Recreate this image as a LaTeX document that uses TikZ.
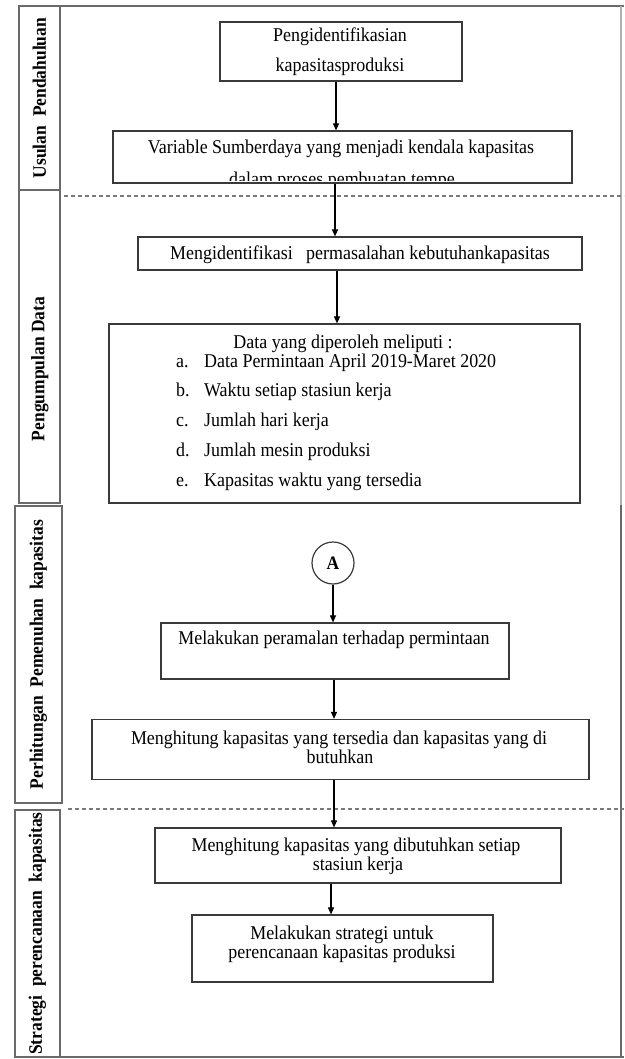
\documentclass[tikz,border=0pt]{standalone}
\usepackage{fontspec}
\setmainfont{Liberation Serif}[FakeStretch=0.92]
\usetikzlibrary{arrows.meta}
\definecolor{boxc}{HTML}{3A3A3A}
\definecolor{framec}{HTML}{6A6A6A}
\definecolor{framel}{HTML}{B0B0B0}
\definecolor{dashc}{HTML}{7A7A7A}
\tikzset{
  box/.style={draw=boxc, line width=1.2pt, inner sep=0pt, fill=white},
  col/.style={draw=framec, line width=1.1pt, inner sep=0pt},
  txt/.style={anchor=base, inner sep=0pt, font=\fontsize{19.5}{21}\selectfont},
  ltxt/.style={anchor=base west, inner sep=0pt, font=\fontsize{19.5}{21}\selectfont},
  lab/.style={rotate=90, inner sep=0pt, font=\fontsize{19}{21}\selectfont\bfseries},
  arr/.style={draw=black, line width=1.1pt, -{Triangle[length=7pt,width=6pt]}},
  frame/.style={draw=framec, line width=1.1pt},
  sep/.style={draw=dashc, line width=1.3pt, dash pattern=on 4pt off 3pt},
}
\begin{document}
\begin{tikzpicture}[x=1pt,y=-1pt]
\useasboundingbox (0,0) rectangle (624,1059);
\fill[white] (0,0) rectangle (624,1059);

% outer frame
\draw[frame] (20,6) -- (624,6);
\draw[draw=framel, line width=1.1pt] (621,6) -- (621,505);
\draw[frame] (621,505) -- (621,1057);
\draw[frame] (15,1057) -- (624,1057);

% left column
\node[col, minimum width=41pt, minimum height=184pt] (s1) at (39.5,98) {};
\node[col, minimum width=41pt, minimum height=313pt] (s2) at (39.5,346.5) {};
\node[col, minimum width=47pt, minimum height=297pt] (s3) at (38.5,654.5) {};
\node[col, minimum width=45pt, minimum height=247pt] (s4) at (37.5,933.5) {};
\node[lab] (l1) at (s1.center) {Usulan\ \ Pendahuluan};
\node[lab] (l2) at (40,369) {Pengumpulan Data};
\node[lab] (l3) at (s3.center) {Perhitungan\ \ Pemenuhan\ \ kapasitas};
\node[lab] (l4) at (s4.center) {Strategi\ \ perencanaan\ \ kapasitas};

% dashed separators
\coordinate (d1a) at (64,196);
\coordinate (d1b) at (624,196);
\coordinate (d2a) at (68,809);
\coordinate (d2b) at (624,809);
\draw[sep] (d1a) -- (d1b);
\draw[sep] (d2a) -- (d2b);

% boxes
\node[box, minimum width=242pt, minimum height=59pt] (b1) at (341,51.5) {};
\node[box, minimum width=459pt, minimum height=52pt] (b2) at (342.5,157) {};
\node[box, minimum width=444pt, minimum height=33pt] (b3) at (360,253.5) {};
\node[box, minimum width=471pt, minimum height=179pt] (b4) at (344.5,413.5) {};
\node[draw=boxc, line width=1.2pt, circle, minimum size=42pt, inner sep=0pt,
      font=\fontsize{19}{21}\selectfont\bfseries] (ca) at (333,563) {A};
\node[box, minimum width=348pt, minimum height=56pt] (b5) at (335,651) {};
\node[box, minimum width=497pt, minimum height=60pt] (b6) at (340.5,749.5) {};
\node[box, minimum width=406pt, minimum height=55pt] (b7) at (358,855.5) {};
\node[box, minimum width=301pt, minimum height=67pt] (b8) at (342.5,948.5) {};

% texts
\node[txt] (t1a) at (340,42) {Pengidentifikasian};
\node[txt] (t1b) at (340,72) {kapasitasproduksi};
\node[txt] (t2a) at (341,154) {Variable\ Sumberdaya yang menjadi kendala kapasitas};
\begin{scope}
  \clip (114,132) rectangle (571,180.5);
  \node[txt] (t2b) at (342,185.5) {dalam proses pembuatan tempe};
\end{scope}
\node[txt] (t3) at (360,259) {Mengidentifikasi\ \ \ permasalahan\ kebutuhankapasitas};
\node[txt] (t4h) at (343,348) {Data yang diperoleh meliputi :};
\node[ltxt] (i1) at (176,367) {a.};
\node[ltxt] (i2) at (176,396) {b.};
\node[ltxt] (i3) at (176,426) {c.};
\node[ltxt] (i4) at (176,456) {d.};
\node[ltxt] (i5) at (176,486) {e.};
\node[ltxt] (j1) at (204,367) {Data Permintaan April 2019-Maret\ 2020};
\node[ltxt] (j2) at (204,396) {Waktu setiap stasiun kerja};
\node[ltxt] (j3) at (204,426) {Jumlah hari kerja};
\node[ltxt] (j4) at (204,456) {Jumlah mesin produksi};
\node[ltxt] (j5) at (204,486) {Kapasitas waktu yang tersedia};
\node[txt] (t5) at (334,644) {Melakukan\ peramalan\ terhadap\ permintaan};
\node[txt] (t6a) at (339,744) {Menghitung\ kapasitas yang tersedia\ dan kapasitas yang di};
\node[txt] (t6b) at (340,763) {butuhkan};
\node[txt] (t7a) at (356,851) {Menghitung\ kapasitas yang dibutuhkan setiap};
\node[txt] (t7b) at (358,870) {stasiun kerja};
\node[txt] (t8a) at (342,939) {Melakukan strategi untuk};
\node[txt] (t8b) at (342,958) {perencanaan\ kapasitas\ produksi};

% arrow columns
\coordinate (x1) at (336,0);
\coordinate (x2) at (335,0);
\coordinate (x3) at (337,0);
\coordinate (x5) at (334,0);
\coordinate (x6) at (334,0);
\coordinate (x7) at (331,0);

\draw[arr] (b1.south -| x1) -- (b2.north -| x1);
\draw[arr] (b2.south -| x2) -- (b3.north -| x2);
\draw[arr] (b3.south -| x3) -- (b4.north -| x3);
\draw[arr] (ca.south) -- (b5.north -| ca.south);
\draw[arr] (b5.south -| x5) -- (b6.north -| x5);
\draw[arr] (b6.south -| x6) -- (b7.north -| x6);
\draw[arr] (b7.south -| x7) -- (b8.north -| x7);
\end{tikzpicture}
\end{document}
